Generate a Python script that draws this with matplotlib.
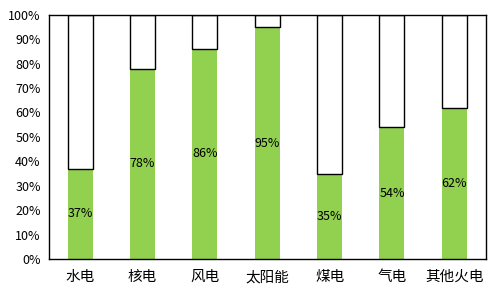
import numpy as np
import matplotlib.pyplot as plt
from matplotlib.ticker import PercentFormatter

plt.rcParams['font.family'] = ['Noto Sans CJK SC', 'DejaVu Sans']

categories = ['水电', '核电', '风电', '太阳能', '煤电', '气电', '其他火电']
shares = [37, 78, 86, 95, 35, 54, 62]          # 占比 (%)
rest = [100 - v for v in shares]

fig = plt.figure(figsize=(5, 2.96), dpi=100)
ax = fig.add_axes([0.098, 0.125, 0.873, 0.825])

x = np.arange(len(categories))
ax.bar(x, shares, width=0.4, color='#92D050', edgecolor='none')
ax.bar(x, rest, width=0.4, bottom=shares, color='white', edgecolor='black', linewidth=1)

for xi, v in zip(x, shares):
    ax.text(xi, v / 2, f'{v}%', ha='center', va='center', fontsize=9, color='black')

ax.set_xlim(-0.5, len(categories) - 0.5)
ax.set_ylim(0, 100)
ax.set_yticks(np.arange(0, 101, 10))
ax.yaxis.set_major_formatter(PercentFormatter(decimals=0))
ax.set_xticks(x)
ax.set_xticklabels(categories)
ax.tick_params(axis='y', length=0, labelsize=9, pad=6)
ax.tick_params(axis='x', length=0, labelsize=10.5, pad=8)
for s in ax.spines.values():
    s.set_linewidth(1)

fig.savefig('out.png', dpi=100)
